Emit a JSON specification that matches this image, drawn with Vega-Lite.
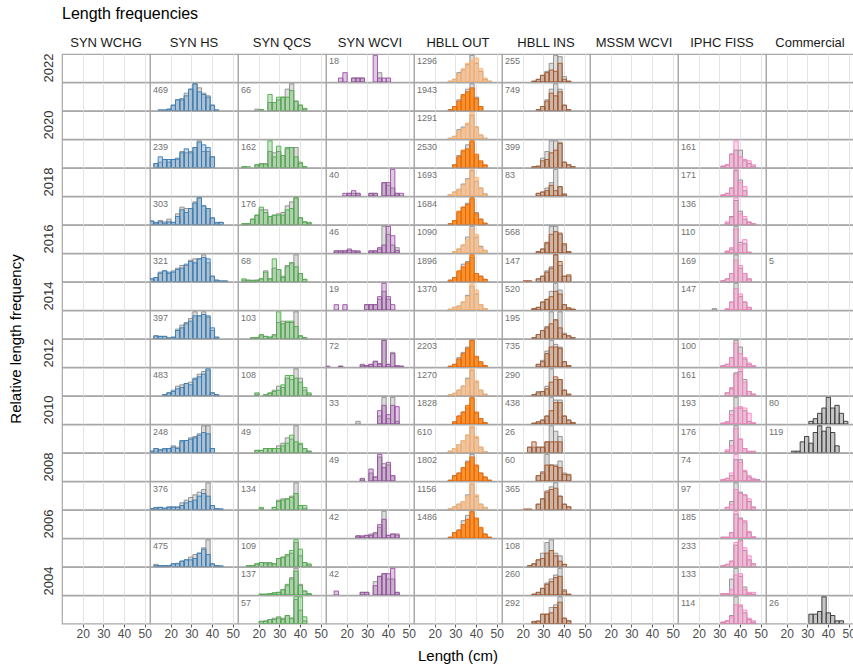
{
"$schema":"https://vega.github.io/schema/vega-lite/v6.json",
"padding":{"left":8,"top":6,"right":0,"bottom":0},
"bounds":"flush",
"title":{"text":"Length frequencies","anchor":"start","frame":"group","fontSize":16,"fontWeight":"normal","color":"#000000","offset":15},
"data":{"values":[
{"s":"WCHG","y":2022},{"s":"HS","y":2022},{"s":"QCS","y":2022},{"s":"WCVI","y":2022,"n":"18"},{"s":"OUT","y":2022,"n":"1296"},{"s":"INS","y":2022,"n":"255"},{"s":"MSSM","y":2022},{"s":"IPHC","y":2022},{"s":"COM","y":2022},
{"s":"WCHG","y":2021},{"s":"HS","y":2021,"n":"469"},{"s":"QCS","y":2021,"n":"66"},{"s":"WCVI","y":2021},{"s":"OUT","y":2021,"n":"1943"},{"s":"INS","y":2021,"n":"749"},{"s":"MSSM","y":2021},{"s":"IPHC","y":2021},{"s":"COM","y":2021},
{"s":"WCHG","y":2020},{"s":"HS","y":2020},{"s":"QCS","y":2020},{"s":"WCVI","y":2020},{"s":"OUT","y":2020,"n":"1291"},{"s":"INS","y":2020},{"s":"MSSM","y":2020},{"s":"IPHC","y":2020},{"s":"COM","y":2020},
{"s":"WCHG","y":2019},{"s":"HS","y":2019,"n":"239"},{"s":"QCS","y":2019,"n":"162"},{"s":"WCVI","y":2019},{"s":"OUT","y":2019,"n":"2530"},{"s":"INS","y":2019,"n":"399"},{"s":"MSSM","y":2019},{"s":"IPHC","y":2019,"n":"161"},{"s":"COM","y":2019},
{"s":"WCHG","y":2018},{"s":"HS","y":2018},{"s":"QCS","y":2018},{"s":"WCVI","y":2018,"n":"40"},{"s":"OUT","y":2018,"n":"1693"},{"s":"INS","y":2018,"n":"83"},{"s":"MSSM","y":2018},{"s":"IPHC","y":2018,"n":"171"},{"s":"COM","y":2018},
{"s":"WCHG","y":2017},{"s":"HS","y":2017,"n":"303"},{"s":"QCS","y":2017,"n":"176"},{"s":"WCVI","y":2017},{"s":"OUT","y":2017,"n":"1684"},{"s":"INS","y":2017},{"s":"MSSM","y":2017},{"s":"IPHC","y":2017,"n":"136"},{"s":"COM","y":2017},
{"s":"WCHG","y":2016},{"s":"HS","y":2016},{"s":"QCS","y":2016},{"s":"WCVI","y":2016,"n":"46"},{"s":"OUT","y":2016,"n":"1090"},{"s":"INS","y":2016,"n":"568"},{"s":"MSSM","y":2016},{"s":"IPHC","y":2016,"n":"110"},{"s":"COM","y":2016},
{"s":"WCHG","y":2015},{"s":"HS","y":2015,"n":"321"},{"s":"QCS","y":2015,"n":"68"},{"s":"WCVI","y":2015},{"s":"OUT","y":2015,"n":"1896"},{"s":"INS","y":2015,"n":"147"},{"s":"MSSM","y":2015},{"s":"IPHC","y":2015,"n":"169"},{"s":"COM","y":2015,"n":"5"},
{"s":"WCHG","y":2014},{"s":"HS","y":2014},{"s":"QCS","y":2014},{"s":"WCVI","y":2014,"n":"19"},{"s":"OUT","y":2014,"n":"1370"},{"s":"INS","y":2014,"n":"520"},{"s":"MSSM","y":2014},{"s":"IPHC","y":2014,"n":"147"},{"s":"COM","y":2014},
{"s":"WCHG","y":2013},{"s":"HS","y":2013,"n":"397"},{"s":"QCS","y":2013,"n":"103"},{"s":"WCVI","y":2013},{"s":"OUT","y":2013},{"s":"INS","y":2013,"n":"195"},{"s":"MSSM","y":2013},{"s":"IPHC","y":2013},{"s":"COM","y":2013},
{"s":"WCHG","y":2012},{"s":"HS","y":2012},{"s":"QCS","y":2012},{"s":"WCVI","y":2012,"n":"72"},{"s":"OUT","y":2012,"n":"2203"},{"s":"INS","y":2012,"n":"735"},{"s":"MSSM","y":2012},{"s":"IPHC","y":2012,"n":"100"},{"s":"COM","y":2012},
{"s":"WCHG","y":2011},{"s":"HS","y":2011,"n":"483"},{"s":"QCS","y":2011,"n":"108"},{"s":"WCVI","y":2011},{"s":"OUT","y":2011,"n":"1270"},{"s":"INS","y":2011,"n":"290"},{"s":"MSSM","y":2011},{"s":"IPHC","y":2011,"n":"161"},{"s":"COM","y":2011},
{"s":"WCHG","y":2010},{"s":"HS","y":2010},{"s":"QCS","y":2010},{"s":"WCVI","y":2010,"n":"33"},{"s":"OUT","y":2010,"n":"1828"},{"s":"INS","y":2010,"n":"438"},{"s":"MSSM","y":2010},{"s":"IPHC","y":2010,"n":"193"},{"s":"COM","y":2010,"n":"80"},
{"s":"WCHG","y":2009},{"s":"HS","y":2009,"n":"248"},{"s":"QCS","y":2009,"n":"49"},{"s":"WCVI","y":2009},{"s":"OUT","y":2009,"n":"610"},{"s":"INS","y":2009,"n":"26"},{"s":"MSSM","y":2009},{"s":"IPHC","y":2009,"n":"176"},{"s":"COM","y":2009,"n":"119"},
{"s":"WCHG","y":2008},{"s":"HS","y":2008},{"s":"QCS","y":2008},{"s":"WCVI","y":2008,"n":"49"},{"s":"OUT","y":2008,"n":"1802"},{"s":"INS","y":2008,"n":"60"},{"s":"MSSM","y":2008},{"s":"IPHC","y":2008,"n":"74"},{"s":"COM","y":2008},
{"s":"WCHG","y":2007},{"s":"HS","y":2007,"n":"376"},{"s":"QCS","y":2007,"n":"134"},{"s":"WCVI","y":2007},{"s":"OUT","y":2007,"n":"1156"},{"s":"INS","y":2007,"n":"365"},{"s":"MSSM","y":2007},{"s":"IPHC","y":2007,"n":"97"},{"s":"COM","y":2007},
{"s":"WCHG","y":2006},{"s":"HS","y":2006},{"s":"QCS","y":2006},{"s":"WCVI","y":2006,"n":"42"},{"s":"OUT","y":2006,"n":"1486"},{"s":"INS","y":2006},{"s":"MSSM","y":2006},{"s":"IPHC","y":2006,"n":"185"},{"s":"COM","y":2006},
{"s":"WCHG","y":2005},{"s":"HS","y":2005,"n":"475"},{"s":"QCS","y":2005,"n":"109"},{"s":"WCVI","y":2005},{"s":"OUT","y":2005},{"s":"INS","y":2005,"n":"108"},{"s":"MSSM","y":2005},{"s":"IPHC","y":2005,"n":"233"},{"s":"COM","y":2005},
{"s":"WCHG","y":2004},{"s":"HS","y":2004},{"s":"QCS","y":2004,"n":"137"},{"s":"WCVI","y":2004,"n":"42"},{"s":"OUT","y":2004},{"s":"INS","y":2004,"n":"260"},{"s":"MSSM","y":2004},{"s":"IPHC","y":2004,"n":"133"},{"s":"COM","y":2004},
{"s":"WCHG","y":2003},{"s":"HS","y":2003},{"s":"QCS","y":2003,"n":"57"},{"s":"WCVI","y":2003},{"s":"OUT","y":2003},{"s":"INS","y":2003,"n":"292"},{"s":"MSSM","y":2003},{"s":"IPHC","y":2003,"n":"114"},{"s":"COM","y":2003,"n":"26"},

{"s":"HS","y":2021,"x":13.7,"f":0.2,"m":0.2},{"s":"HS","y":2021,"x":15.8,"f":0.2,"m":0.2},{"s":"HS","y":2021,"x":17.9,"f":0.5,"m":0.5},{"s":"HS","y":2021,"x":20,"f":2,"m":2},{"s":"HS","y":2021,"x":22.1,"f":4,"m":4},{"s":"HS","y":2021,"x":24.2,"f":4,"m":4.5},{"s":"HS","y":2021,"x":26.3,"f":5.5,"m":6.5},{"s":"HS","y":2021,"x":28.4,"f":8,"m":8},{"s":"HS","y":2021,"x":30.5,"f":10,"m":10},{"s":"HS","y":2021,"x":32.6,"f":7,"m":8.5},{"s":"HS","y":2021,"x":34.7,"f":6,"m":6.5},{"s":"HS","y":2021,"x":36.8,"f":5,"m":5.5},{"s":"HS","y":2021,"x":38.9,"f":2,"m":2},{"s":"HS","y":2021,"x":41,"f":0.2,"m":0.2},
{"s":"HS","y":2019,"x":11.6,"f":1.5,"m":1.5},{"s":"HS","y":2019,"x":13.7,"f":4,"m":2},{"s":"HS","y":2019,"x":15.8,"f":3,"m":3},{"s":"HS","y":2019,"x":17.9,"f":3,"m":2},{"s":"HS","y":2019,"x":20,"f":3,"m":3},{"s":"HS","y":2019,"x":22.1,"f":3.5,"m":3},{"s":"HS","y":2019,"x":24.2,"f":5.5,"m":6},{"s":"HS","y":2019,"x":26.3,"f":7,"m":5.5},{"s":"HS","y":2019,"x":28.4,"f":5.5,"m":6},{"s":"HS","y":2019,"x":30.5,"f":7.5,"m":7.5},{"s":"HS","y":2019,"x":32.6,"f":9.5,"m":10},{"s":"HS","y":2019,"x":34.7,"f":8.5,"m":6},{"s":"HS","y":2019,"x":36.8,"f":7.5,"m":6},{"s":"HS","y":2019,"x":38.9,"f":4,"m":4},
{"s":"HS","y":2017,"x":9.5,"f":1.3,"m":1.3},{"s":"HS","y":2017,"x":11.6,"f":0.8,"m":0.5},{"s":"HS","y":2017,"x":13.7,"f":1,"m":1.5},{"s":"HS","y":2017,"x":15.8,"f":0.5,"m":1},{"s":"HS","y":2017,"x":17.9,"f":1,"m":2},{"s":"HS","y":2017,"x":20,"f":0.8,"m":0.8},{"s":"HS","y":2017,"x":22.1,"f":3,"m":4},{"s":"HS","y":2017,"x":24.2,"f":5.5,"m":6.5},{"s":"HS","y":2017,"x":26.3,"f":4.5,"m":6},{"s":"HS","y":2017,"x":28.4,"f":6,"m":6},{"s":"HS","y":2017,"x":30.5,"f":8,"m":8.5},{"s":"HS","y":2017,"x":32.6,"f":10,"m":10},{"s":"HS","y":2017,"x":34.7,"f":7,"m":7},{"s":"HS","y":2017,"x":36.8,"f":6,"m":6},{"s":"HS","y":2017,"x":38.9,"f":2.5,"m":2.5},{"s":"HS","y":2017,"x":41,"f":0.8,"m":0.5},{"s":"HS","y":2017,"x":43.1,"f":0.8,"m":0.8},
{"s":"HS","y":2015,"x":9.5,"f":1,"m":1},{"s":"HS","y":2015,"x":11.6,"f":1.5,"m":1.5},{"s":"HS","y":2015,"x":13.7,"f":3.5,"m":3},{"s":"HS","y":2015,"x":15.8,"f":4,"m":4},{"s":"HS","y":2015,"x":17.9,"f":3.5,"m":3},{"s":"HS","y":2015,"x":20,"f":3.5,"m":4},{"s":"HS","y":2015,"x":22.1,"f":4.5,"m":5},{"s":"HS","y":2015,"x":24.2,"f":5,"m":6},{"s":"HS","y":2015,"x":26.3,"f":6.5,"m":6},{"s":"HS","y":2015,"x":28.4,"f":7.5,"m":8},{"s":"HS","y":2015,"x":30.5,"f":7,"m":8.5},{"s":"HS","y":2015,"x":32.6,"f":8.5,"m":8.5},{"s":"HS","y":2015,"x":34.7,"f":9,"m":10},{"s":"HS","y":2015,"x":36.8,"f":8.5,"m":7},{"s":"HS","y":2015,"x":38.9,"f":2,"m":2},{"s":"HS","y":2015,"x":41,"f":0.5,"m":0.5},{"s":"HS","y":2015,"x":43.1,"f":0.2,"m":0.2},{"s":"HS","y":2015,"x":45.2,"f":0.2,"m":0.2},
{"s":"HS","y":2013,"x":11.6,"f":1,"m":1},{"s":"HS","y":2013,"x":13.7,"f":0.8,"m":0.8},{"s":"HS","y":2013,"x":15.8,"f":0.8,"m":0.8},{"s":"HS","y":2013,"x":17.9,"f":0.2,"m":0.2},{"s":"HS","y":2013,"x":20,"f":0.5,"m":0.5},{"s":"HS","y":2013,"x":22.1,"f":3,"m":3.5},{"s":"HS","y":2013,"x":24.2,"f":4,"m":5},{"s":"HS","y":2013,"x":26.3,"f":5.5,"m":6},{"s":"HS","y":2013,"x":28.4,"f":6.5,"m":7.5},{"s":"HS","y":2013,"x":30.5,"f":8.5,"m":10},{"s":"HS","y":2013,"x":32.6,"f":8.5,"m":8.5},{"s":"HS","y":2013,"x":34.7,"f":9,"m":10},{"s":"HS","y":2013,"x":36.8,"f":8.5,"m":8},{"s":"HS","y":2013,"x":38.9,"f":4,"m":3},{"s":"HS","y":2013,"x":41,"f":0.5,"m":0.5},
{"s":"HS","y":2011,"x":15.8,"f":0.3,"m":0.3},{"s":"HS","y":2011,"x":17.9,"f":1,"m":1},{"s":"HS","y":2011,"x":20,"f":1.5,"m":2},{"s":"HS","y":2011,"x":22.1,"f":2.5,"m":3.5},{"s":"HS","y":2011,"x":24.2,"f":3,"m":4},{"s":"HS","y":2011,"x":26.3,"f":4.5,"m":4.5},{"s":"HS","y":2011,"x":28.4,"f":4,"m":5},{"s":"HS","y":2011,"x":30.5,"f":6.5,"m":6},{"s":"HS","y":2011,"x":32.6,"f":7,"m":8},{"s":"HS","y":2011,"x":34.7,"f":8,"m":9},{"s":"HS","y":2011,"x":36.8,"f":10,"m":9.5},{"s":"HS","y":2011,"x":38.9,"f":1,"m":1},{"s":"HS","y":2011,"x":41,"f":0.3,"m":0.3},
{"s":"HS","y":2009,"x":9.5,"f":0.5,"m":0.5},{"s":"HS","y":2009,"x":11.6,"f":1.5,"m":1.5},{"s":"HS","y":2009,"x":13.7,"f":1,"m":1},{"s":"HS","y":2009,"x":15.8,"f":1.5,"m":1},{"s":"HS","y":2009,"x":17.9,"f":1.5,"m":1.5},{"s":"HS","y":2009,"x":20,"f":2,"m":2.5},{"s":"HS","y":2009,"x":22.1,"f":1.5,"m":2},{"s":"HS","y":2009,"x":24.2,"f":4.5,"m":4},{"s":"HS","y":2009,"x":26.3,"f":4.5,"m":4.5},{"s":"HS","y":2009,"x":28.4,"f":5,"m":5.5},{"s":"HS","y":2009,"x":30.5,"f":5.5,"m":6},{"s":"HS","y":2009,"x":32.6,"f":6.5,"m":7},{"s":"HS","y":2009,"x":34.7,"f":7.5,"m":10},{"s":"HS","y":2009,"x":36.8,"f":7,"m":10},{"s":"HS","y":2009,"x":38.9,"f":1.5,"m":1.5},
{"s":"HS","y":2007,"x":9.5,"f":0.3,"m":0.3},{"s":"HS","y":2007,"x":11.6,"f":0.8,"m":0.5},{"s":"HS","y":2007,"x":13.7,"f":0.8,"m":0.8},{"s":"HS","y":2007,"x":15.8,"f":0.5,"m":0.5},{"s":"HS","y":2007,"x":17.9,"f":0.8,"m":1},{"s":"HS","y":2007,"x":20,"f":1,"m":0.8},{"s":"HS","y":2007,"x":22.1,"f":0.8,"m":1},{"s":"HS","y":2007,"x":24.2,"f":1.5,"m":2.5},{"s":"HS","y":2007,"x":26.3,"f":2.5,"m":3.5},{"s":"HS","y":2007,"x":28.4,"f":3,"m":4.5},{"s":"HS","y":2007,"x":30.5,"f":3.5,"m":5.5},{"s":"HS","y":2007,"x":32.6,"f":5,"m":6.5},{"s":"HS","y":2007,"x":34.7,"f":6,"m":7.5},{"s":"HS","y":2007,"x":36.8,"f":5,"m":10},{"s":"HS","y":2007,"x":38.9,"f":1.5,"m":1.5},{"s":"HS","y":2007,"x":41,"f":0.3,"m":0.3},{"s":"HS","y":2007,"x":43.1,"f":0.2,"m":0.2},
{"s":"HS","y":2005,"x":11.6,"f":0.3,"m":0.8},{"s":"HS","y":2005,"x":13.7,"f":0.3,"m":0.3},{"s":"HS","y":2005,"x":15.8,"f":0.3,"m":0.3},{"s":"HS","y":2005,"x":17.9,"f":0.3,"m":0.3},{"s":"HS","y":2005,"x":20,"f":1,"m":1},{"s":"HS","y":2005,"x":22.1,"f":1,"m":1.2},{"s":"HS","y":2005,"x":24.2,"f":2,"m":2},{"s":"HS","y":2005,"x":26.3,"f":2.5,"m":2.5},{"s":"HS","y":2005,"x":28.4,"f":2.5,"m":3.5},{"s":"HS","y":2005,"x":30.5,"f":3,"m":4.5},{"s":"HS","y":2005,"x":32.6,"f":5,"m":5},{"s":"HS","y":2005,"x":34.7,"f":6.5,"m":7},{"s":"HS","y":2005,"x":36.8,"f":4.5,"m":10},{"s":"HS","y":2005,"x":38.9,"f":1,"m":1},{"s":"HS","y":2005,"x":41,"f":0.3,"m":0.3},{"s":"HS","y":2005,"x":43.1,"f":0.2,"m":0.2},

{"s":"QCS","y":2021,"x":17.9,"m":0.5},{"s":"QCS","y":2021,"x":20,"f":0.3,"m":0.3},{"s":"QCS","y":2021,"x":24.2,"f":6,"m":3},{"s":"QCS","y":2021,"x":26.3,"f":3,"m":3},{"s":"QCS","y":2021,"x":28.4,"f":5,"m":4},{"s":"QCS","y":2021,"x":30.5,"f":5,"m":5},{"s":"QCS","y":2021,"x":32.6,"f":5,"m":8},{"s":"QCS","y":2021,"x":34.7,"f":7.5,"m":10},{"s":"QCS","y":2021,"x":36.8,"f":3.5,"m":3.5},{"s":"QCS","y":2021,"x":38.9,"f":2,"m":2},{"s":"QCS","y":2021,"x":41,"f":0.8,"m":0.5},
{"s":"QCS","y":2019,"x":11.6,"f":0.3,"m":0.3},{"s":"QCS","y":2019,"x":13.7,"f":0.3},{"s":"QCS","y":2019,"x":17.9,"f":1,"m":1},{"s":"QCS","y":2019,"x":20,"f":1.5,"m":1},{"s":"QCS","y":2019,"x":22.1,"f":1,"m":1.5},{"s":"QCS","y":2019,"x":24.2,"f":10,"m":6},{"s":"QCS","y":2019,"x":26.3,"f":4,"m":5.5},{"s":"QCS","y":2019,"x":28.4,"f":8,"m":6},{"s":"QCS","y":2019,"x":30.5,"f":4.5,"m":4.5},{"s":"QCS","y":2019,"x":32.6,"f":7.5,"m":7},{"s":"QCS","y":2019,"x":34.7,"f":7.5,"m":7.5},{"s":"QCS","y":2019,"x":36.8,"f":4,"m":7.5},{"s":"QCS","y":2019,"x":38.9,"f":2,"m":1.5},{"s":"QCS","y":2019,"x":41,"f":0.3,"m":0.3},
{"s":"QCS","y":2017,"x":11.6,"f":0.3,"m":0.3},{"s":"QCS","y":2017,"x":13.7,"f":0.3,"m":0.3},{"s":"QCS","y":2017,"x":15.8,"f":2,"m":2},{"s":"QCS","y":2017,"x":17.9,"f":3.5,"m":3.5},{"s":"QCS","y":2017,"x":20,"f":6.5,"m":5.5},{"s":"QCS","y":2017,"x":22.1,"f":4.5,"m":5.5},{"s":"QCS","y":2017,"x":24.2,"f":3,"m":3},{"s":"QCS","y":2017,"x":26.3,"f":3.5,"m":3.5},{"s":"QCS","y":2017,"x":28.4,"f":3.5,"m":4},{"s":"QCS","y":2017,"x":30.5,"f":3.5,"m":4.5},{"s":"QCS","y":2017,"x":32.6,"f":5.5,"m":7},{"s":"QCS","y":2017,"x":34.7,"f":6,"m":8.5},{"s":"QCS","y":2017,"x":36.8,"f":10,"m":10},{"s":"QCS","y":2017,"x":38.9,"f":2.5,"m":2.5},{"s":"QCS","y":2017,"x":41,"f":1,"m":1},{"s":"QCS","y":2017,"x":43.1,"f":0.8,"m":0.5},
{"s":"QCS","y":2015,"x":11.6,"f":1,"m":0.5},{"s":"QCS","y":2015,"x":13.7,"f":0.5,"m":0.5},{"s":"QCS","y":2015,"x":15.8,"f":0.3,"m":0.5},{"s":"QCS","y":2015,"x":17.9,"f":0.5,"m":0.5},{"s":"QCS","y":2015,"x":20,"f":1,"m":1},{"s":"QCS","y":2015,"x":22.1,"f":3.5,"m":4},{"s":"QCS","y":2015,"x":24.2,"f":1,"m":1},{"s":"QCS","y":2015,"x":26.3,"f":8.5,"m":5},{"s":"QCS","y":2015,"x":28.4,"f":4.5,"m":4.5},{"s":"QCS","y":2015,"x":30.5,"f":1.5,"m":2},{"s":"QCS","y":2015,"x":32.6,"f":5.5,"m":6},{"s":"QCS","y":2015,"x":34.7,"f":7,"m":7},{"s":"QCS","y":2015,"x":36.8,"f":5.5,"m":10},{"s":"QCS","y":2015,"x":38.9,"f":3,"m":3},{"s":"QCS","y":2015,"x":41,"f":0.8,"m":0.8},
{"s":"QCS","y":2013,"x":15.8,"f":0.3,"m":0.3},{"s":"QCS","y":2013,"x":17.9,"f":0.3,"m":0.3},{"s":"QCS","y":2013,"x":20,"f":1.5,"m":1},{"s":"QCS","y":2013,"x":22.1,"f":0.8,"m":0.8},{"s":"QCS","y":2013,"x":24.2,"f":0.5,"m":0.5},{"s":"QCS","y":2013,"x":26.3,"f":1,"m":1.5},{"s":"QCS","y":2013,"x":28.4,"f":10,"m":6},{"s":"QCS","y":2013,"x":30.5,"f":5.5,"m":6.5},{"s":"QCS","y":2013,"x":32.6,"f":6.5,"m":6},{"s":"QCS","y":2013,"x":34.7,"f":6.5,"m":6},{"s":"QCS","y":2013,"x":36.8,"f":4.5,"m":10},{"s":"QCS","y":2013,"x":38.9,"f":1,"m":1},{"s":"QCS","y":2013,"x":41,"f":0.3,"m":0.3},
{"s":"QCS","y":2011,"x":17.9,"f":1,"m":0.5},{"s":"QCS","y":2011,"x":22.1,"f":0.3,"m":0.3},{"s":"QCS","y":2011,"x":24.2,"f":1,"m":0.8},{"s":"QCS","y":2011,"x":26.3,"f":1.5,"m":2},{"s":"QCS","y":2011,"x":28.4,"f":2,"m":3.5},{"s":"QCS","y":2011,"x":30.5,"f":4,"m":3},{"s":"QCS","y":2011,"x":32.6,"f":7.5,"m":6.5},{"s":"QCS","y":2011,"x":34.7,"f":7.5,"m":6},{"s":"QCS","y":2011,"x":36.8,"f":6.5,"m":10},{"s":"QCS","y":2011,"x":38.9,"f":5,"m":6.5},{"s":"QCS","y":2011,"x":41,"f":3,"m":2},{"s":"QCS","y":2011,"x":43.1,"f":1,"m":0.5},
{"s":"QCS","y":2009,"x":17.9,"f":0.8,"m":0.8},{"s":"QCS","y":2009,"x":20,"f":0.8,"m":0.8},{"s":"QCS","y":2009,"x":22.1,"f":1.5,"m":1.5},{"s":"QCS","y":2009,"x":24.2,"f":1.5,"m":1.5},{"s":"QCS","y":2009,"x":26.3,"f":1.5,"m":1.5},{"s":"QCS","y":2009,"x":28.4,"f":1.5,"m":2.5},{"s":"QCS","y":2009,"x":30.5,"f":2.5,"m":3.5},{"s":"QCS","y":2009,"x":32.6,"f":3.5,"m":5.5},{"s":"QCS","y":2009,"x":34.7,"f":6.5,"m":5},{"s":"QCS","y":2009,"x":36.8,"f":4,"m":10},{"s":"QCS","y":2009,"x":38.9,"f":3.5,"m":3},{"s":"QCS","y":2009,"x":41,"f":1.5,"m":1.5},{"s":"QCS","y":2009,"x":43.1,"f":0.5,"m":0.5},
{"s":"QCS","y":2007,"x":20,"f":0.8,"m":0.3},{"s":"QCS","y":2007,"x":26.3,"f":0.8,"m":0.8},{"s":"QCS","y":2007,"x":28.4,"f":3,"m":3.5},{"s":"QCS","y":2007,"x":30.5,"f":3.5,"m":4},{"s":"QCS","y":2007,"x":32.6,"f":4,"m":4},{"s":"QCS","y":2007,"x":34.7,"f":4.5,"m":5},{"s":"QCS","y":2007,"x":36.8,"f":6,"m":10},{"s":"QCS","y":2007,"x":38.9,"f":1.5,"m":1.5},{"s":"QCS","y":2007,"x":41,"f":1.5,"m":0.5},
{"s":"QCS","y":2005,"x":13.7,"f":0.3,"m":0.3},{"s":"QCS","y":2005,"x":15.8,"f":0.3,"m":0.3},{"s":"QCS","y":2005,"x":17.9,"f":1,"m":1},{"s":"QCS","y":2005,"x":20,"f":1.5,"m":1.5},{"s":"QCS","y":2005,"x":22.1,"f":1,"m":1.5},{"s":"QCS","y":2005,"x":24.2,"f":1.5,"m":1},{"s":"QCS","y":2005,"x":26.3,"f":1,"m":1},{"s":"QCS","y":2005,"x":28.4,"f":3,"m":3},{"s":"QCS","y":2005,"x":30.5,"f":3.5,"m":3.5},{"s":"QCS","y":2005,"x":32.6,"f":4.5,"m":4},{"s":"QCS","y":2005,"x":34.7,"f":6,"m":5},{"s":"QCS","y":2005,"x":36.8,"f":10,"m":9},{"s":"QCS","y":2005,"x":38.9,"f":6.5,"m":4},{"s":"QCS","y":2005,"x":41,"f":1.5,"m":1.5},{"s":"QCS","y":2005,"x":43.1,"f":1,"m":0.5},
{"s":"QCS","y":2004,"x":20,"f":0.3,"m":0.3},{"s":"QCS","y":2004,"x":22.1,"f":0.3,"m":0.3},{"s":"QCS","y":2004,"x":24.2,"f":0.5,"m":0.5},{"s":"QCS","y":2004,"x":26.3,"f":0.8,"m":0.8},{"s":"QCS","y":2004,"x":28.4,"f":1,"m":1},{"s":"QCS","y":2004,"x":30.5,"f":2,"m":2},{"s":"QCS","y":2004,"x":32.6,"f":4,"m":3.5},{"s":"QCS","y":2004,"x":34.7,"f":6,"m":6.5},{"s":"QCS","y":2004,"x":36.8,"f":9,"m":10},{"s":"QCS","y":2004,"x":38.9,"f":3.5,"m":4},{"s":"QCS","y":2004,"x":41,"f":1.5,"m":1.5},{"s":"QCS","y":2004,"x":43.1,"f":0.5,"m":0.5},
{"s":"QCS","y":2003,"x":20,"f":0.8,"m":0.8},{"s":"QCS","y":2003,"x":22.1,"f":0.8,"m":1},{"s":"QCS","y":2003,"x":24.2,"f":1.5,"m":1.5},{"s":"QCS","y":2003,"x":26.3,"f":1.5,"m":2},{"s":"QCS","y":2003,"x":28.4,"f":2.5,"m":2},{"s":"QCS","y":2003,"x":30.5,"f":1.5,"m":2},{"s":"QCS","y":2003,"x":32.6,"f":3,"m":3},{"s":"QCS","y":2003,"x":34.7,"f":2,"m":2},{"s":"QCS","y":2003,"x":36.8,"f":10,"m":9},{"s":"QCS","y":2003,"x":38.9,"f":10,"m":5},{"s":"QCS","y":2003,"x":41,"f":2.5,"m":1},

{"s":"WCVI","y":2022,"x":15.8,"f":1.5},{"s":"WCVI","y":2022,"x":17.9,"f":3.5},{"s":"WCVI","y":2022,"x":22.1,"f":1.5,"m":1.5},{"s":"WCVI","y":2022,"x":24.2,"f":1.5,"m":1.5},{"s":"WCVI","y":2022,"x":26.3,"f":1.5,"m":1.5},{"s":"WCVI","y":2022,"x":32.6,"f":10},{"s":"WCVI","y":2022,"x":34.7,"f":1.5,"m":3.5},{"s":"WCVI","y":2022,"x":36.8,"f":1.5},{"s":"WCVI","y":2022,"x":38.9,"f":1.5},
{"s":"WCVI","y":2018,"x":17.9,"f":1},{"s":"WCVI","y":2018,"x":20,"f":1,"m":1},{"s":"WCVI","y":2018,"x":22.1,"f":2,"m":1},{"s":"WCVI","y":2018,"x":24.2,"f":1,"m":1},{"s":"WCVI","y":2018,"x":30.5,"f":1,"m":1},{"s":"WCVI","y":2018,"x":32.6,"f":1,"m":1},{"s":"WCVI","y":2018,"x":36.8,"f":5,"m":5},{"s":"WCVI","y":2018,"x":38.9,"f":5,"m":4},{"s":"WCVI","y":2018,"x":41,"f":10,"m":3},{"s":"WCVI","y":2018,"x":43.1,"f":1,"m":1},{"s":"WCVI","y":2018,"x":45.2,"f":1},
{"s":"WCVI","y":2016,"x":13.7,"f":0.8,"m":0.8},{"s":"WCVI","y":2016,"x":15.8,"f":0.8,"m":0.8},{"s":"WCVI","y":2016,"x":17.9,"f":0.8,"m":0.8},{"s":"WCVI","y":2016,"x":20,"f":1.5,"m":1},{"s":"WCVI","y":2016,"x":22.1,"f":0.8,"m":0.8},{"s":"WCVI","y":2016,"x":24.2,"f":0.8,"m":0.5},{"s":"WCVI","y":2016,"x":30.5,"f":0.8,"m":0.8},{"s":"WCVI","y":2016,"x":32.6,"f":0.8,"m":0.8},{"s":"WCVI","y":2016,"x":34.7,"f":2,"m":1.5},{"s":"WCVI","y":2016,"x":36.8,"f":3,"m":10},{"s":"WCVI","y":2016,"x":38.9,"f":10,"m":7},{"s":"WCVI","y":2016,"x":41,"f":6.5,"m":3},{"s":"WCVI","y":2016,"x":43.1,"f":1,"m":2},
{"s":"WCVI","y":2014,"x":13.7,"f":2},{"s":"WCVI","y":2014,"x":17.9,"f":2},{"s":"WCVI","y":2014,"x":28.4,"f":2,"m":2},{"s":"WCVI","y":2014,"x":30.5,"f":2,"m":2},{"s":"WCVI","y":2014,"x":32.6,"f":2,"m":2},{"s":"WCVI","y":2014,"x":34.7,"f":5,"m":4},{"s":"WCVI","y":2014,"x":36.8,"f":10,"m":7},{"s":"WCVI","y":2014,"x":38.9,"f":5,"m":4},{"s":"WCVI","y":2014,"x":41,"f":2},
{"s":"WCVI","y":2012,"x":9.5,"f":0.3},{"s":"WCVI","y":2012,"x":15.8,"f":0.3,"m":0.3},{"s":"WCVI","y":2012,"x":26.3,"f":1,"m":0.5},{"s":"WCVI","y":2012,"x":28.4,"f":0.5,"m":0.5},{"s":"WCVI","y":2012,"x":30.5,"f":1,"m":1},{"s":"WCVI","y":2012,"x":32.6,"f":2.2,"m":2},{"s":"WCVI","y":2012,"x":34.7,"f":1.3,"m":1},{"s":"WCVI","y":2012,"x":36.8,"f":10,"m":10},{"s":"WCVI","y":2012,"x":38.9,"f":1,"m":1},{"s":"WCVI","y":2012,"x":41,"f":5,"m":5.5},{"s":"WCVI","y":2012,"x":43.1,"f":0.5,"m":0.3},{"s":"WCVI","y":2012,"x":45.2,"f":0.3,"m":0.3},
{"s":"WCVI","y":2010,"x":24.2,"m":1},{"s":"WCVI","y":2010,"x":34.7,"f":5,"m":3},{"s":"WCVI","y":2010,"x":36.8,"f":7,"m":10},{"s":"WCVI","y":2010,"x":38.9,"f":3.5,"m":2},{"s":"WCVI","y":2010,"x":41,"f":7,"m":10},{"s":"WCVI","y":2010,"x":43.1,"f":6.5,"m":1},
{"s":"WCVI","y":2008,"x":26.3,"f":0.8,"m":1},{"s":"WCVI","y":2008,"x":30.5,"f":4.5,"m":3},{"s":"WCVI","y":2008,"x":32.6,"f":1.5,"m":1.5},{"s":"WCVI","y":2008,"x":34.7,"f":10,"m":9},{"s":"WCVI","y":2008,"x":36.8,"f":5,"m":6.5},{"s":"WCVI","y":2008,"x":38.9,"f":7,"m":6},{"s":"WCVI","y":2008,"x":41,"f":2,"m":2},
{"s":"WCVI","y":2006,"x":24.2,"f":0.8,"m":0.8},{"s":"WCVI","y":2006,"x":26.3,"f":0.8,"m":0.5},{"s":"WCVI","y":2006,"x":28.4,"f":1,"m":1},{"s":"WCVI","y":2006,"x":30.5,"f":1,"m":1.5},{"s":"WCVI","y":2006,"x":32.6,"f":2,"m":1.5},{"s":"WCVI","y":2006,"x":34.7,"f":5,"m":4},{"s":"WCVI","y":2006,"x":36.8,"f":7,"m":10},{"s":"WCVI","y":2006,"x":38.9,"f":1,"m":1},{"s":"WCVI","y":2006,"x":41,"f":1.5,"m":1.5},{"s":"WCVI","y":2006,"x":43.1,"f":1.5,"m":1},
{"s":"WCVI","y":2004,"x":13.7,"f":1.5},{"s":"WCVI","y":2004,"x":26.3,"f":1,"m":1},{"s":"WCVI","y":2004,"x":28.4,"f":1,"m":1},{"s":"WCVI","y":2004,"x":32.6,"f":3.5,"m":5},{"s":"WCVI","y":2004,"x":34.7,"f":7,"m":7},{"s":"WCVI","y":2004,"x":36.8,"f":8,"m":8},{"s":"WCVI","y":2004,"x":38.9,"f":8,"m":6},{"s":"WCVI","y":2004,"x":41,"f":10,"m":6},{"s":"WCVI","y":2004,"x":43.1,"f":1,"m":1},

{"s":"OUT","y":2022,"x":26.3,"f":0.3,"m":0.3},{"s":"OUT","y":2022,"x":28.4,"f":1,"m":1},{"s":"OUT","y":2022,"x":30.5,"f":3,"m":3.5},{"s":"OUT","y":2022,"x":32.6,"f":5,"m":4.5},{"s":"OUT","y":2022,"x":34.7,"f":7,"m":6.5},{"s":"OUT","y":2022,"x":36.8,"f":8,"m":10},{"s":"OUT","y":2022,"x":38.9,"f":9,"m":7},{"s":"OUT","y":2022,"x":41,"f":5,"m":4},{"s":"OUT","y":2022,"x":43.1,"f":1.5,"m":1},{"s":"OUT","y":2022,"x":45.2,"f":0.3,"m":0.3},
{"s":"OUT","y":2021,"x":26.3,"f":0.3,"m":0.3},{"s":"OUT","y":2021,"x":28.4,"f":1.5,"m":1.5},{"s":"OUT","y":2021,"x":30.5,"f":3.5,"m":4},{"s":"OUT","y":2021,"x":32.6,"f":6,"m":5.5},{"s":"OUT","y":2021,"x":34.7,"f":7,"m":8},{"s":"OUT","y":2021,"x":36.8,"f":8.5,"m":10},{"s":"OUT","y":2021,"x":38.9,"f":4.5,"m":5},{"s":"OUT","y":2021,"x":41,"f":1.5,"m":1.5},
{"s":"OUT","y":2020,"x":26.3,"f":0.3,"m":0.3},{"s":"OUT","y":2020,"x":28.4,"f":1,"m":1},{"s":"OUT","y":2020,"x":30.5,"f":3,"m":3.5},{"s":"OUT","y":2020,"x":32.6,"f":4,"m":4.5},{"s":"OUT","y":2020,"x":34.7,"f":6,"m":5.5},{"s":"OUT","y":2020,"x":36.8,"f":10,"m":9},{"s":"OUT","y":2020,"x":38.9,"f":4.5,"m":4.5},{"s":"OUT","y":2020,"x":41,"f":1.5,"m":1.5},{"s":"OUT","y":2020,"x":43.1,"f":0.3,"m":0.3},
{"s":"OUT","y":2019,"x":28.4,"f":1,"m":1},{"s":"OUT","y":2019,"x":30.5,"f":4,"m":4.5},{"s":"OUT","y":2019,"x":32.6,"f":6.5,"m":6},{"s":"OUT","y":2019,"x":34.7,"f":7,"m":8.5},{"s":"OUT","y":2019,"x":36.8,"f":10,"m":9.5},{"s":"OUT","y":2019,"x":38.9,"f":5,"m":4},{"s":"OUT","y":2019,"x":41,"f":2.5,"m":2},{"s":"OUT","y":2019,"x":43.1,"f":1,"m":0.8},
{"s":"OUT","y":2018,"x":26.3,"f":0.5,"m":0.5},{"s":"OUT","y":2018,"x":28.4,"f":1.5,"m":1.5},{"s":"OUT","y":2018,"x":30.5,"f":2.5,"m":2.5},{"s":"OUT","y":2018,"x":32.6,"f":4,"m":4.5},{"s":"OUT","y":2018,"x":34.7,"f":6,"m":6.5},{"s":"OUT","y":2018,"x":36.8,"f":10,"m":9.5},{"s":"OUT","y":2018,"x":38.9,"f":7,"m":5.5},{"s":"OUT","y":2018,"x":41,"f":3,"m":3},{"s":"OUT","y":2018,"x":43.1,"f":0.8,"m":0.8},
{"s":"OUT","y":2017,"x":26.3,"f":0.3,"m":0.3},{"s":"OUT","y":2017,"x":28.4,"f":1.5,"m":1.5},{"s":"OUT","y":2017,"x":30.5,"f":5,"m":4.5},{"s":"OUT","y":2017,"x":32.6,"f":6.5,"m":6.5},{"s":"OUT","y":2017,"x":34.7,"f":7.5,"m":8},{"s":"OUT","y":2017,"x":36.8,"f":10,"m":9.5},{"s":"OUT","y":2017,"x":38.9,"f":4,"m":4.5},{"s":"OUT","y":2017,"x":41,"f":2,"m":2},{"s":"OUT","y":2017,"x":43.1,"f":0.5,"m":0.5},
{"s":"OUT","y":2016,"x":28.4,"f":0.5,"m":0.5},{"s":"OUT","y":2016,"x":30.5,"f":1.5,"m":1.5},{"s":"OUT","y":2016,"x":32.6,"f":3,"m":3},{"s":"OUT","y":2016,"x":34.7,"f":5,"m":6},{"s":"OUT","y":2016,"x":36.8,"f":9,"m":10},{"s":"OUT","y":2016,"x":38.9,"f":7,"m":6},{"s":"OUT","y":2016,"x":41,"f":2,"m":2.5},{"s":"OUT","y":2016,"x":43.1,"f":1,"m":1},
{"s":"OUT","y":2015,"x":26.3,"f":0.5,"m":0.5},{"s":"OUT","y":2015,"x":28.4,"f":1.5,"m":1.5},{"s":"OUT","y":2015,"x":30.5,"f":4,"m":3.5},{"s":"OUT","y":2015,"x":32.6,"f":5.5,"m":6.5},{"s":"OUT","y":2015,"x":34.7,"f":7,"m":7.5},{"s":"OUT","y":2015,"x":36.8,"f":10,"m":9},{"s":"OUT","y":2015,"x":38.9,"f":3,"m":3},{"s":"OUT","y":2015,"x":41,"f":2,"m":2},{"s":"OUT","y":2015,"x":43.1,"f":0.8,"m":0.8},
{"s":"OUT","y":2014,"x":26.3,"f":0.3,"m":0.3},{"s":"OUT","y":2014,"x":28.4,"f":1,"m":1},{"s":"OUT","y":2014,"x":30.5,"f":1.5,"m":1.5},{"s":"OUT","y":2014,"x":32.6,"f":3,"m":3},{"s":"OUT","y":2014,"x":34.7,"f":5,"m":5.5},{"s":"OUT","y":2014,"x":36.8,"f":10,"m":9},{"s":"OUT","y":2014,"x":38.9,"f":7.5,"m":6},{"s":"OUT","y":2014,"x":41,"f":2,"m":2},{"s":"OUT","y":2014,"x":43.1,"f":0.5,"m":0.5},
{"s":"OUT","y":2012,"x":26.3,"f":0.3,"m":0.3},{"s":"OUT","y":2012,"x":28.4,"f":1,"m":1},{"s":"OUT","y":2012,"x":30.5,"f":3,"m":3.5},{"s":"OUT","y":2012,"x":32.6,"f":5,"m":5.5},{"s":"OUT","y":2012,"x":34.7,"f":7,"m":7.5},{"s":"OUT","y":2012,"x":36.8,"f":10,"m":10},{"s":"OUT","y":2012,"x":38.9,"f":4,"m":3.5},{"s":"OUT","y":2012,"x":41,"f":2,"m":1.5},{"s":"OUT","y":2012,"x":43.1,"f":0.5,"m":0.5},
{"s":"OUT","y":2011,"x":26.3,"f":0.3,"m":0.3},{"s":"OUT","y":2011,"x":28.4,"f":0.8,"m":0.8},{"s":"OUT","y":2011,"x":30.5,"f":2,"m":2},{"s":"OUT","y":2011,"x":32.6,"f":3.5,"m":3.5},{"s":"OUT","y":2011,"x":34.7,"f":6,"m":6.5},{"s":"OUT","y":2011,"x":36.8,"f":10,"m":9.5},{"s":"OUT","y":2011,"x":38.9,"f":5.5,"m":5},{"s":"OUT","y":2011,"x":41,"f":2,"m":2},{"s":"OUT","y":2011,"x":43.1,"f":0.5,"m":0.5},
{"s":"OUT","y":2010,"x":28.4,"f":0.8,"m":0.8},{"s":"OUT","y":2010,"x":30.5,"f":3,"m":3},{"s":"OUT","y":2010,"x":32.6,"f":4.5,"m":4.5},{"s":"OUT","y":2010,"x":34.7,"f":7,"m":6},{"s":"OUT","y":2010,"x":36.8,"f":10,"m":9.5},{"s":"OUT","y":2010,"x":38.9,"f":4.5,"m":4},{"s":"OUT","y":2010,"x":41,"f":2,"m":2},{"s":"OUT","y":2010,"x":43.1,"f":0.5,"m":0.5},
{"s":"OUT","y":2009,"x":26.3,"f":0.5,"m":0.5},{"s":"OUT","y":2009,"x":28.4,"f":1.5,"m":1.5},{"s":"OUT","y":2009,"x":30.5,"f":3,"m":3},{"s":"OUT","y":2009,"x":32.6,"f":4.5,"m":4.5},{"s":"OUT","y":2009,"x":34.7,"f":6.5,"m":6.5},{"s":"OUT","y":2009,"x":36.8,"f":10,"m":9.5},{"s":"OUT","y":2009,"x":38.9,"f":6,"m":5.5},{"s":"OUT","y":2009,"x":41,"f":2,"m":2},{"s":"OUT","y":2009,"x":43.1,"f":0.3,"m":0.3},
{"s":"OUT","y":2008,"x":26.3,"f":0.3,"m":0.3},{"s":"OUT","y":2008,"x":28.4,"f":2,"m":2},{"s":"OUT","y":2008,"x":30.5,"f":3,"m":3},{"s":"OUT","y":2008,"x":32.6,"f":5,"m":5},{"s":"OUT","y":2008,"x":34.7,"f":7,"m":7.5},{"s":"OUT","y":2008,"x":36.8,"f":9,"m":10},{"s":"OUT","y":2008,"x":38.9,"f":6,"m":5.5},{"s":"OUT","y":2008,"x":41,"f":3,"m":3},{"s":"OUT","y":2008,"x":43.1,"f":1.5,"m":1.5},{"s":"OUT","y":2008,"x":45.2,"f":0.3,"m":0.3},
{"s":"OUT","y":2007,"x":26.3,"f":0.3,"m":0.3},{"s":"OUT","y":2007,"x":28.4,"f":1,"m":1},{"s":"OUT","y":2007,"x":30.5,"f":2,"m":2},{"s":"OUT","y":2007,"x":32.6,"f":3,"m":3},{"s":"OUT","y":2007,"x":34.7,"f":5,"m":5.5},{"s":"OUT","y":2007,"x":36.8,"f":10,"m":9.5},{"s":"OUT","y":2007,"x":38.9,"f":5.5,"m":5},{"s":"OUT","y":2007,"x":41,"f":2,"m":2},{"s":"OUT","y":2007,"x":43.1,"f":0.8,"m":0.8},
{"s":"OUT","y":2006,"x":26.3,"f":0.3,"m":0.3},{"s":"OUT","y":2006,"x":28.4,"f":2,"m":2},{"s":"OUT","y":2006,"x":30.5,"f":3,"m":3},{"s":"OUT","y":2006,"x":32.6,"f":5,"m":6.5},{"s":"OUT","y":2006,"x":34.7,"f":7,"m":8.5},{"s":"OUT","y":2006,"x":36.8,"f":10,"m":9.5},{"s":"OUT","y":2006,"x":38.9,"f":7.5,"m":7},{"s":"OUT","y":2006,"x":41,"f":4,"m":3.5},{"s":"OUT","y":2006,"x":43.1,"f":1.5,"m":1.5},{"s":"OUT","y":2006,"x":45.2,"f":0.3,"m":0.3},

{"s":"INS","y":2022,"x":24.2,"f":0.3,"m":0.3},{"s":"INS","y":2022,"x":26.3,"f":1,"m":1},{"s":"INS","y":2022,"x":28.4,"f":2.5,"m":2.5},{"s":"INS","y":2022,"x":30.5,"f":3.5,"m":4},{"s":"INS","y":2022,"x":32.6,"f":4.5,"m":7},{"s":"INS","y":2022,"x":34.7,"f":4,"m":10},{"s":"INS","y":2022,"x":36.8,"f":7,"m":9.5},{"s":"INS","y":2022,"x":38.9,"f":1,"m":2},{"s":"INS","y":2022,"x":41,"f":0.3,"m":0.3},
{"s":"INS","y":2021,"x":26.3,"f":0.3,"m":0.3},{"s":"INS","y":2021,"x":28.4,"f":1.5,"m":1.5},{"s":"INS","y":2021,"x":30.5,"f":3.5,"m":4},{"s":"INS","y":2021,"x":32.6,"f":6.5,"m":8},{"s":"INS","y":2021,"x":34.7,"f":5.5,"m":10},{"s":"INS","y":2021,"x":36.8,"f":7,"m":8},{"s":"INS","y":2021,"x":38.9,"f":2,"m":2},{"s":"INS","y":2021,"x":41,"f":0.3,"m":0.3},
{"s":"INS","y":2019,"x":24.2,"f":0.3,"m":0.3},{"s":"INS","y":2019,"x":26.3,"f":0.5,"m":0.5},{"s":"INS","y":2019,"x":28.4,"f":2.5,"m":3.5},{"s":"INS","y":2019,"x":30.5,"f":3,"m":6},{"s":"INS","y":2019,"x":32.6,"f":5.5,"m":10},{"s":"INS","y":2019,"x":34.7,"f":6.5,"m":10},{"s":"INS","y":2019,"x":36.8,"f":9,"m":9.5},{"s":"INS","y":2019,"x":38.9,"f":2,"m":2},{"s":"INS","y":2019,"x":41,"f":1,"m":1},{"s":"INS","y":2019,"x":43.1,"f":0.3,"m":0.3},
{"s":"INS","y":2018,"x":26.3,"f":1,"m":1},{"s":"INS","y":2018,"x":28.4,"f":1.5,"m":1.5},{"s":"INS","y":2018,"x":30.5,"f":2,"m":3},{"s":"INS","y":2018,"x":32.6,"f":4,"m":5},{"s":"INS","y":2018,"x":34.7,"f":2,"m":10},{"s":"INS","y":2018,"x":36.8,"f":3.5,"m":3.5},{"s":"INS","y":2018,"x":38.9,"f":0.8,"m":0.5},
{"s":"INS","y":2016,"x":26.3,"f":0.5,"m":0.5},{"s":"INS","y":2016,"x":28.4,"f":1.5,"m":1.5},{"s":"INS","y":2016,"x":30.5,"f":4,"m":3.5},{"s":"INS","y":2016,"x":32.6,"f":7,"m":10},{"s":"INS","y":2016,"x":34.7,"f":8,"m":10},{"s":"INS","y":2016,"x":36.8,"f":7.5,"m":7},{"s":"INS","y":2016,"x":38.9,"f":3.5,"m":3},{"s":"INS","y":2016,"x":41,"f":0.5,"m":0.5},
{"s":"INS","y":2015,"x":20,"f":0.3},{"s":"INS","y":2015,"x":22.1,"f":0.3},{"s":"INS","y":2015,"x":26.3,"f":1,"m":1},{"s":"INS","y":2015,"x":28.4,"f":2,"m":2},{"s":"INS","y":2015,"x":30.5,"f":3.5,"m":4},{"s":"INS","y":2015,"x":32.6,"f":5,"m":5.5},{"s":"INS","y":2015,"x":34.7,"f":10,"m":10},{"s":"INS","y":2015,"x":36.8,"f":7.5,"m":6},{"s":"INS","y":2015,"x":38.9,"f":2,"m":2},{"s":"INS","y":2015,"x":41,"f":2.5,"m":2},
{"s":"INS","y":2014,"x":24.2,"f":0.5,"m":0.5},{"s":"INS","y":2014,"x":26.3,"f":1,"m":1},{"s":"INS","y":2014,"x":28.4,"f":3,"m":3},{"s":"INS","y":2014,"x":30.5,"f":4,"m":4},{"s":"INS","y":2014,"x":32.6,"f":5,"m":7},{"s":"INS","y":2014,"x":34.7,"f":7,"m":10},{"s":"INS","y":2014,"x":36.8,"f":6,"m":7.5},{"s":"INS","y":2014,"x":38.9,"f":2,"m":2},{"s":"INS","y":2014,"x":41,"f":0.8,"m":0.8},{"s":"INS","y":2014,"x":43.1,"f":0.3,"m":0.3},
{"s":"INS","y":2013,"x":24.2,"f":0.3,"m":0.3},{"s":"INS","y":2013,"x":26.3,"f":1.5,"m":1.5},{"s":"INS","y":2013,"x":28.4,"f":3,"m":3},{"s":"INS","y":2013,"x":30.5,"f":4,"m":4.5},{"s":"INS","y":2013,"x":32.6,"f":5.5,"m":10},{"s":"INS","y":2013,"x":34.7,"f":7,"m":7},{"s":"INS","y":2013,"x":36.8,"f":4,"m":10},{"s":"INS","y":2013,"x":38.9,"f":1.5,"m":2},{"s":"INS","y":2013,"x":41,"f":1,"m":1},{"s":"INS","y":2013,"x":43.1,"f":0.3,"m":0.3},
{"s":"INS","y":2012,"x":26.3,"f":1,"m":1},{"s":"INS","y":2012,"x":28.4,"f":2,"m":2.5},{"s":"INS","y":2012,"x":30.5,"f":5,"m":6},{"s":"INS","y":2012,"x":32.6,"f":7.5,"m":10},{"s":"INS","y":2012,"x":34.7,"f":7.5,"m":8.5},{"s":"INS","y":2012,"x":36.8,"f":7,"m":7.5},{"s":"INS","y":2012,"x":38.9,"f":2,"m":2},{"s":"INS","y":2012,"x":41,"f":0.5,"m":0.5},
{"s":"INS","y":2011,"x":24.2,"f":0.3,"m":0.3},{"s":"INS","y":2011,"x":26.3,"f":1,"m":1.5},{"s":"INS","y":2011,"x":28.4,"f":1.5,"m":1.5},{"s":"INS","y":2011,"x":30.5,"f":2.5,"m":3.5},{"s":"INS","y":2011,"x":32.6,"f":5,"m":10},{"s":"INS","y":2011,"x":34.7,"f":7,"m":6},{"s":"INS","y":2011,"x":36.8,"f":6,"m":6},{"s":"INS","y":2011,"x":38.9,"f":2,"m":2},{"s":"INS","y":2011,"x":41,"f":0.5,"m":0.5},
{"s":"INS","y":2010,"x":24.2,"f":0.3,"m":0.3},{"s":"INS","y":2010,"x":26.3,"f":0.8,"m":0.8},{"s":"INS","y":2010,"x":28.4,"f":1.5,"m":1.5},{"s":"INS","y":2010,"x":30.5,"f":3,"m":3},{"s":"INS","y":2010,"x":32.6,"f":5,"m":10},{"s":"INS","y":2010,"x":34.7,"f":8,"m":9},{"s":"INS","y":2010,"x":36.8,"f":8,"m":9},{"s":"INS","y":2010,"x":38.9,"f":3,"m":3},{"s":"INS","y":2010,"x":41,"f":1.5,"m":1.5},{"s":"INS","y":2010,"x":43.1,"f":0.5,"m":0.5},
{"s":"INS","y":2009,"x":22.1,"f":2,"m":2},{"s":"INS","y":2009,"x":24.2,"f":4,"m":2},{"s":"INS","y":2009,"x":26.3,"f":2,"m":2},{"s":"INS","y":2009,"x":28.4,"f":2,"m":2},{"s":"INS","y":2009,"x":30.5,"f":4,"m":4},{"s":"INS","y":2009,"x":32.6,"f":4,"m":10},{"s":"INS","y":2009,"x":34.7,"f":4,"m":8},{"s":"INS","y":2009,"x":36.8,"f":4,"m":6},
{"s":"INS","y":2008,"x":26.3,"f":2,"m":2},{"s":"INS","y":2008,"x":28.4,"f":3,"m":3.5},{"s":"INS","y":2008,"x":30.5,"f":6,"m":10},{"s":"INS","y":2008,"x":32.6,"f":6,"m":6},{"s":"INS","y":2008,"x":34.7,"f":5.5,"m":6},{"s":"INS","y":2008,"x":36.8,"f":5,"m":7.5},{"s":"INS","y":2008,"x":38.9,"f":2.5,"m":3},{"s":"INS","y":2008,"x":41,"f":2.5,"m":2},
{"s":"INS","y":2007,"x":20,"f":0.2},{"s":"INS","y":2007,"x":22.1,"f":0.2},{"s":"INS","y":2007,"x":26.3,"f":2,"m":2},{"s":"INS","y":2007,"x":28.4,"f":4,"m":4},{"s":"INS","y":2007,"x":30.5,"f":6.5,"m":7},{"s":"INS","y":2007,"x":32.6,"f":7.5,"m":8.5},{"s":"INS","y":2007,"x":34.7,"f":8,"m":10},{"s":"INS","y":2007,"x":36.8,"f":5,"m":5},{"s":"INS","y":2007,"x":38.9,"f":2,"m":2},{"s":"INS","y":2007,"x":41,"f":1,"m":1},
{"s":"INS","y":2005,"x":22.1,"f":0.3,"m":0.3},{"s":"INS","y":2005,"x":24.2,"f":1,"m":1},{"s":"INS","y":2005,"x":26.3,"f":2.5,"m":2.5},{"s":"INS","y":2005,"x":28.4,"f":3,"m":5},{"s":"INS","y":2005,"x":30.5,"f":5,"m":9},{"s":"INS","y":2005,"x":32.6,"f":6,"m":10},{"s":"INS","y":2005,"x":34.7,"f":4,"m":5},{"s":"INS","y":2005,"x":36.8,"f":2,"m":4},{"s":"INS","y":2005,"x":38.9,"f":0.8,"m":0.8},
{"s":"INS","y":2004,"x":24.2,"f":0.3,"m":0.3},{"s":"INS","y":2004,"x":26.3,"f":1,"m":1},{"s":"INS","y":2004,"x":28.4,"f":2.5,"m":2.5},{"s":"INS","y":2004,"x":30.5,"f":4,"m":4.5},{"s":"INS","y":2004,"x":32.6,"f":5,"m":6},{"s":"INS","y":2004,"x":34.7,"f":6.5,"m":7.5},{"s":"INS","y":2004,"x":36.8,"f":7,"m":10},{"s":"INS","y":2004,"x":38.9,"f":1.5,"m":2},{"s":"INS","y":2004,"x":41,"f":0.3,"m":0.3},
{"s":"INS","y":2003,"x":24.2,"f":0.8,"m":0.5},{"s":"INS","y":2003,"x":26.3,"f":0.8,"m":1},{"s":"INS","y":2003,"x":28.4,"f":3.5,"m":3.5},{"s":"INS","y":2003,"x":30.5,"f":3.5,"m":3.5},{"s":"INS","y":2003,"x":32.6,"f":4,"m":6},{"s":"INS","y":2003,"x":34.7,"f":6,"m":7},{"s":"INS","y":2003,"x":36.8,"f":8,"m":10},{"s":"INS","y":2003,"x":38.9,"f":2,"m":2},{"s":"INS","y":2003,"x":41,"f":1,"m":1},

{"s":"IPHC","y":2019,"x":30.5,"f":0.5,"m":0.5},{"s":"IPHC","y":2019,"x":32.6,"f":1,"m":1},{"s":"IPHC","y":2019,"x":34.7,"f":5,"m":5},{"s":"IPHC","y":2019,"x":36.8,"f":10,"m":6.5},{"s":"IPHC","y":2019,"x":38.9,"f":4,"m":6.5},{"s":"IPHC","y":2019,"x":41,"f":3,"m":2.5},{"s":"IPHC","y":2019,"x":43.1,"f":2.5,"m":1.5},{"s":"IPHC","y":2019,"x":45.2,"f":1,"m":0.5},
{"s":"IPHC","y":2018,"x":30.5,"f":0.5,"m":0.3},{"s":"IPHC","y":2018,"x":32.6,"f":1,"m":1},{"s":"IPHC","y":2018,"x":34.7,"f":3,"m":3},{"s":"IPHC","y":2018,"x":36.8,"f":10,"m":9.5},{"s":"IPHC","y":2018,"x":38.9,"f":5,"m":6},{"s":"IPHC","y":2018,"x":41,"f":3.5,"m":2},
{"s":"IPHC","y":2017,"x":32.6,"f":1,"m":0.5},{"s":"IPHC","y":2017,"x":34.7,"f":2.5,"m":3},{"s":"IPHC","y":2017,"x":36.8,"f":10,"m":9},{"s":"IPHC","y":2017,"x":38.9,"f":4,"m":5},{"s":"IPHC","y":2017,"x":41,"f":3,"m":2},{"s":"IPHC","y":2017,"x":43.1,"f":1,"m":0.8},{"s":"IPHC","y":2017,"x":45.2,"f":0.3,"m":0.3},
{"s":"IPHC","y":2016,"x":32.6,"f":0.8,"m":0.5},{"s":"IPHC","y":2016,"x":34.7,"f":2,"m":1.5},{"s":"IPHC","y":2016,"x":36.8,"f":9,"m":10},{"s":"IPHC","y":2016,"x":38.9,"f":3,"m":4},{"s":"IPHC","y":2016,"x":41,"f":5,"m":3.5},{"s":"IPHC","y":2016,"x":43.1,"f":0.3,"m":0.3},
{"s":"IPHC","y":2015,"x":30.5,"f":0.3,"m":0.3},{"s":"IPHC","y":2015,"x":32.6,"f":1,"m":1},{"s":"IPHC","y":2015,"x":34.7,"f":3,"m":3},{"s":"IPHC","y":2015,"x":36.8,"f":8,"m":10},{"s":"IPHC","y":2015,"x":38.9,"f":6,"m":5},{"s":"IPHC","y":2015,"x":41,"f":3,"m":3},{"s":"IPHC","y":2015,"x":43.1,"f":1,"m":1},
{"s":"IPHC","y":2014,"x":26.3,"m":0.5},{"s":"IPHC","y":2014,"x":32.6,"f":0.5,"m":0.3},{"s":"IPHC","y":2014,"x":34.7,"f":3,"m":3},{"s":"IPHC","y":2014,"x":36.8,"f":8,"m":10},{"s":"IPHC","y":2014,"x":38.9,"f":6,"m":5},{"s":"IPHC","y":2014,"x":41,"f":3,"m":3},{"s":"IPHC","y":2014,"x":43.1,"f":1,"m":1},
{"s":"IPHC","y":2012,"x":30.5,"f":0.5,"m":0.5},{"s":"IPHC","y":2012,"x":32.6,"f":1,"m":1},{"s":"IPHC","y":2012,"x":34.7,"f":3.5,"m":3.5},{"s":"IPHC","y":2012,"x":36.8,"f":9,"m":10},{"s":"IPHC","y":2012,"x":38.9,"f":5,"m":7.5},{"s":"IPHC","y":2012,"x":41,"f":3.5,"m":3},{"s":"IPHC","y":2012,"x":43.1,"f":1.5,"m":1},{"s":"IPHC","y":2012,"x":45.2,"f":0.5,"m":0.3},
{"s":"IPHC","y":2011,"x":32.6,"f":1,"m":1},{"s":"IPHC","y":2011,"x":34.7,"f":3,"m":2.5},{"s":"IPHC","y":2011,"x":36.8,"f":8,"m":8.5},{"s":"IPHC","y":2011,"x":38.9,"f":10,"m":9},{"s":"IPHC","y":2011,"x":41,"f":5,"m":6},{"s":"IPHC","y":2011,"x":43.1,"f":1.5,"m":1.5},{"s":"IPHC","y":2011,"x":45.2,"f":0.5,"m":0.5},
{"s":"IPHC","y":2010,"x":30.5,"f":0.3,"m":0.3},{"s":"IPHC","y":2010,"x":32.6,"f":0.8,"m":0.8},{"s":"IPHC","y":2010,"x":34.7,"f":3.5,"m":5},{"s":"IPHC","y":2010,"x":36.8,"f":6,"m":10},{"s":"IPHC","y":2010,"x":38.9,"f":6.5,"m":6},{"s":"IPHC","y":2010,"x":41,"f":6,"m":5},{"s":"IPHC","y":2010,"x":43.1,"f":4,"m":1},{"s":"IPHC","y":2010,"x":45.2,"f":0.5,"m":0.3},
{"s":"IPHC","y":2009,"x":32.6,"f":1,"m":0.5},{"s":"IPHC","y":2009,"x":34.7,"f":2.5,"m":4.5},{"s":"IPHC","y":2009,"x":36.8,"f":9,"m":10},{"s":"IPHC","y":2009,"x":38.9,"f":5,"m":5},{"s":"IPHC","y":2009,"x":41,"f":1.5,"m":1.5},{"s":"IPHC","y":2009,"x":43.1,"f":0.5,"m":0.3},{"s":"IPHC","y":2009,"x":45.2,"f":0.5,"m":0.3},
{"s":"IPHC","y":2008,"x":30.5,"f":0.5,"m":0.5},{"s":"IPHC","y":2008,"x":32.6,"f":1,"m":1},{"s":"IPHC","y":2008,"x":34.7,"f":3,"m":2},{"s":"IPHC","y":2008,"x":36.8,"f":10,"m":8},{"s":"IPHC","y":2008,"x":38.9,"f":7,"m":8},{"s":"IPHC","y":2008,"x":41,"f":4,"m":3.5},{"s":"IPHC","y":2008,"x":43.1,"f":2,"m":1.5},{"s":"IPHC","y":2008,"x":45.2,"f":1,"m":0.5},{"s":"IPHC","y":2008,"x":47.3,"f":0.3,"m":0.5},
{"s":"IPHC","y":2007,"x":32.6,"f":0.8,"m":0.8},{"s":"IPHC","y":2007,"x":34.7,"f":2,"m":3},{"s":"IPHC","y":2007,"x":36.8,"f":7.5,"m":10},{"s":"IPHC","y":2007,"x":38.9,"f":6,"m":6.5},{"s":"IPHC","y":2007,"x":41,"f":5.5,"m":5.5},{"s":"IPHC","y":2007,"x":43.1,"f":4,"m":3},{"s":"IPHC","y":2007,"x":45.2,"f":1,"m":0.8},
{"s":"IPHC","y":2006,"x":30.5,"f":0.3,"m":0.3},{"s":"IPHC","y":2006,"x":32.6,"f":0.3,"m":0.3},{"s":"IPHC","y":2006,"x":34.7,"f":2,"m":2},{"s":"IPHC","y":2006,"x":36.8,"f":10,"m":9},{"s":"IPHC","y":2006,"x":38.9,"f":7,"m":7.5},{"s":"IPHC","y":2006,"x":41,"f":6.5,"m":6},{"s":"IPHC","y":2006,"x":43.1,"f":2.5,"m":2},{"s":"IPHC","y":2006,"x":45.2,"f":0.5,"m":0.3},
{"s":"IPHC","y":2005,"x":30.5,"f":0.3,"m":0.3},{"s":"IPHC","y":2005,"x":32.6,"f":0.8,"m":0.8},{"s":"IPHC","y":2005,"x":34.7,"f":2,"m":2},{"s":"IPHC","y":2005,"x":36.8,"f":9,"m":8},{"s":"IPHC","y":2005,"x":38.9,"f":9.5,"m":10},{"s":"IPHC","y":2005,"x":41,"f":7,"m":6},{"s":"IPHC","y":2005,"x":43.1,"f":4,"m":2.5},{"s":"IPHC","y":2005,"x":45.2,"f":1,"m":1},
{"s":"IPHC","y":2004,"x":30.5,"f":0.5,"m":0.5},{"s":"IPHC","y":2004,"x":32.6,"f":0.5,"m":0.5},{"s":"IPHC","y":2004,"x":34.7,"f":2,"m":6},{"s":"IPHC","y":2004,"x":36.8,"f":7.5,"m":10},{"s":"IPHC","y":2004,"x":38.9,"f":8,"m":7},{"s":"IPHC","y":2004,"x":41,"f":2,"m":3},{"s":"IPHC","y":2004,"x":43.1,"f":1,"m":0.5},{"s":"IPHC","y":2004,"x":45.2,"f":1,"m":0.3},
{"s":"IPHC","y":2003,"x":30.5,"f":0.5,"m":0.5},{"s":"IPHC","y":2003,"x":32.6,"f":1,"m":1},{"s":"IPHC","y":2003,"x":34.7,"f":2.5,"m":3},{"s":"IPHC","y":2003,"x":36.8,"f":7,"m":10},{"s":"IPHC","y":2003,"x":38.9,"f":7,"m":6.5},{"s":"IPHC","y":2003,"x":41,"f":5,"m":4},{"s":"IPHC","y":2003,"x":43.1,"f":2,"m":1.5},{"s":"IPHC","y":2003,"x":45.2,"f":1,"m":0.5},

{"s":"COM","y":2010,"x":30.5,"f":1},{"s":"COM","y":2010,"x":32.6,"f":2},{"s":"COM","y":2010,"x":34.7,"f":4},{"s":"COM","y":2010,"x":36.8,"f":6},{"s":"COM","y":2010,"x":38.9,"f":10},{"s":"COM","y":2010,"x":41,"f":6},{"s":"COM","y":2010,"x":43.1,"f":7},{"s":"COM","y":2010,"x":45.2,"f":4},{"s":"COM","y":2010,"x":47.3,"f":1},
{"s":"COM","y":2009,"x":22.1,"f":0.5},{"s":"COM","y":2009,"x":24.2,"f":0.5},{"s":"COM","y":2009,"x":26.3,"f":4},{"s":"COM","y":2009,"x":28.4,"f":6},{"s":"COM","y":2009,"x":30.5,"f":3.5},{"s":"COM","y":2009,"x":32.6,"f":7.5},{"s":"COM","y":2009,"x":34.7,"f":10},{"s":"COM","y":2009,"x":36.8,"f":8},{"s":"COM","y":2009,"x":38.9,"f":9.5},{"s":"COM","y":2009,"x":41,"f":7.5},{"s":"COM","y":2009,"x":43.1,"f":2.5},
{"s":"COM","y":2003,"x":30.5,"f":3.5},{"s":"COM","y":2003,"x":32.6,"f":3.5},{"s":"COM","y":2003,"x":34.7,"f":4.5},{"s":"COM","y":2003,"x":36.8,"f":10},{"s":"COM","y":2003,"x":38.9,"f":4},{"s":"COM","y":2003,"x":41,"f":3},{"s":"COM","y":2003,"x":43.1,"f":1},{"s":"COM","y":2003,"x":45.2,"f":1}
]},
"spacing":{"row":0.5,"column":0},
"facet":{
 "column":{"field":"s","type":"nominal","sort":["WCHG","HS","QCS","WCVI","OUT","INS","MSSM","IPHC","COM"],
  "header":{"labelOrient":"top","titleOrient":"bottom","title":"Length (cm)","labelExpr":"({'WCHG':'SYN WCHG','HS':'SYN HS','QCS':'SYN QCS','WCVI':'SYN WCVI','OUT':'HBLL OUT','INS':'HBLL INS','MSSM':'MSSM WCVI','IPHC':'IPHC FISS','COM':'Commercial'})[datum.value]","labelFontSize":13,"labelColor":"#1a1a1a","labelPadding":4,"titleFontSize":15,"titleFontWeight":"normal","titleColor":"#000000","titlePadding":0}},
 "row":{"field":"y","type":"ordinal","sort":"descending",
  "header":{"labelOrient":"left","labelAngle":-90,"labelExpr":"datum.value % 2 == 0 ? '' + datum.value : ''","labelFontSize":13,"labelColor":"#333333","labelPadding":0,"title":"Relative length frequency","titleOrient":"left","titleFontSize":15,"titleFontWeight":"normal","titleColor":"#000000","titlePadding":8}}
},
"spec":{
 "width":88,"height":28,
 "layer":[
  {"transform":[{"filter":"isValid(datum.m)"}],
   "mark":{"type":"bar","clip":true,"binSpacing":0,"fill":"#cfcfcf","fillOpacity":0.7,"stroke":"#7f7f7f","strokeWidth":0.8},
   "encoding":{
    "x":{"field":"x","type":"quantitative","bin":{"binned":true,"step":2.1},"scale":{"domain":[10,52.6],"nice":false,"zero":false},"axis":{"values":[20,30,40,50],"title":null,"grid":true}},
    "y":{"field":"m","type":"quantitative","scale":{"domain":[0,10.5],"nice":false},"axis":null}}},
  {"transform":[{"filter":"isValid(datum.f)"}],
   "mark":{"type":"bar","clip":true,"binSpacing":0,"strokeWidth":0.9},
   "encoding":{
    "x":{"field":"x","type":"quantitative","bin":{"binned":true,"step":2.1},"scale":{"domain":[10,52.6],"nice":false,"zero":false},"axis":{"values":[20,30,40,50],"title":null,"grid":true}},
    "y":{"field":"f","type":"quantitative","scale":{"domain":[0,10.5],"nice":false},"axis":null},
    "fill":{"condition":[{"test":"datum.s=='OUT' && (datum.y>2012)==(datum.y%2==0)","value":"#fdae6b"}],"field":"s","type":"nominal","scale":{"domain":["HS","QCS","WCVI","OUT","INS","IPHC","COM"],"range":["#377eb8","#4daf4a","#984ea3","#ff7f00","#a65628","#f781bf","#a0a0a0"]},"legend":null},
    "stroke":{"condition":[{"test":"datum.s=='OUT' && (datum.y>2012)==(datum.y%2==0)","value":"#fdb46e"}],"field":"s","type":"nominal","scale":{"domain":["HS","QCS","WCVI","OUT","INS","IPHC","COM"],"range":["#377eb8","#4daf4a","#984ea3","#e8650c","#a65628","#f781bf","#333333"]},"legend":null},
    "fillOpacity":{"condition":[{"test":"datum.s=='OUT' && (datum.y>2012)==(datum.y%2==0)","value":0.5},{"test":"datum.s=='OUT'","value":0.8},{"test":"datum.s=='COM'","value":0.6}],"value":0.3}}},
  {"transform":[{"filter":"isValid(datum.n)"}],
   "mark":{"type":"text","align":"left","baseline":"top","dx":3,"dy":3,"fontSize":9,"color":"#707070"},
   "encoding":{
    "x":{"datum":10,"type":"quantitative","axis":{"values":[20,30,40,50],"title":null,"grid":true}},
    "y":{"datum":10.5,"type":"quantitative","axis":null},
    "text":{"field":"n","type":"nominal"}}}
 ]
},
"config":{
 "font":"Liberation Sans",
 "view":{"stroke":"#a8a8a8","strokeWidth":1.2},
 "axis":{"gridColor":"#e4e4e4","gridWidth":1,"domain":false,"tickColor":"#5a5a5a","tickSize":3,"labelFontSize":12,"labelColor":"#4d4d4d","labelPadding":1,"labelFlush":false,"labelOverlap":false}
}
}
